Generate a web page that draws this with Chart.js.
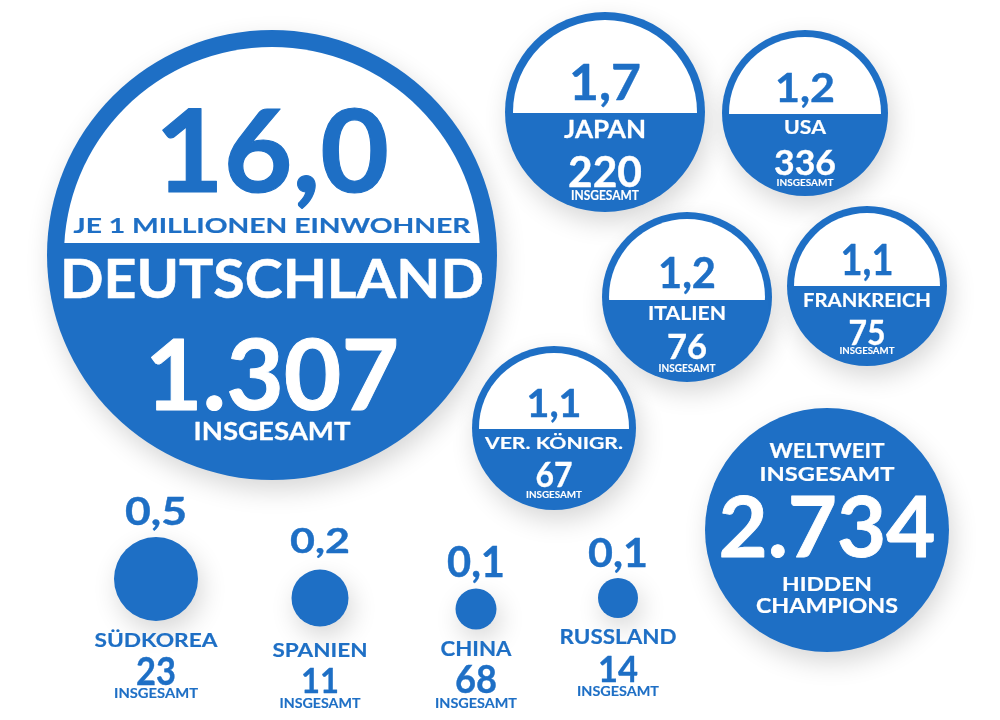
<!DOCTYPE html>
<html>
<head>
<meta charset="utf-8">
<script src="https://cdn.jsdelivr.net/npm/chart.js@4.4.1/dist/chart.umd.min.js"></script>
<style>
  html, body { margin: 0; padding: 0; background: #fff; }
  #wrap { width: 1000px; height: 720px; }
</style>
</head>
<body>
<div id="wrap"><canvas id="hcChart" width="1000" height="720"></canvas></div>
<script>
// Hidden Champions je 1 Mio. Einwohner / insgesamt
const countries = ['DEUTSCHLAND', 'JAPAN', 'USA', 'ITALIEN', 'FRANKREICH', 'VER. KÖNIGR.', 'SÜDKOREA', 'SPANIEN', 'CHINA', 'RUSSLAND'];
const perMillion = [16.0, 1.7, 1.2, 1.2, 1.1, 1.1, 0.5, 0.2, 0.1, 0.1];
const totals = [1307, 220, 336, 76, 75, 67, 23, 11, 68, 14];
const worldTotal = 2734;
const worldLabel = ['WELTWEIT', 'INSGESAMT', 'HIDDEN', 'CHAMPIONS'];
const noteLabel = 'JE 1 MILLIONEN EINWOHNER';
const totalLabel = 'INSGESAMT';

const BLUE = '#1e6fc5';

// layout of the bubbles (page space 0..1000 x 0..720) + text lines [key, dy, capHeight, width]
const layout = [
  { x: 272, y: 255, r: 225, kind: 'cap', ring: 17, cap: -12, lines: [['value', -63, 82, 234], ['note', -22, 15, 397], ['name', 43, 38, 424], ['total', 155, 70, 254], ['insg', 185, 18, 157]] },
  { x: 605, y: 112, r: 100, kind: 'cap', ring: 8, cap: 1, lines: [['value', -12, 35, 72], ['name', 26, 18, 82], ['total', 75, 30, 74], ['insg', 88, 9, 68]] },
  { x: 805, y: 113, r: 83, kind: 'cap', ring: 7, cap: 1, lines: [['value', -11, 29, 60], ['name', 21, 14, 42], ['total', 62, 25, 62], ['insg', 73, 7, 57]] },
  { x: 687, y: 297, r: 85, kind: 'cap', ring: 7, cap: 3, lines: [['value', -9, 30, 58], ['name', 23, 14, 78], ['total', 62, 24, 40], ['insg', 75, 8, 57]] },
  { x: 867, y: 286, r: 80, kind: 'cap', ring: 7, cap: 0, lines: [['value', -11, 30, 53], ['name', 21, 13, 128], ['total', 59, 25, 37], ['insg', 68, 7, 55]] },
  { x: 554, y: 428, r: 82, kind: 'cap', ring: 7, cap: 1, lines: [['value', -11, 27, 55], ['name', 21, 12, 138], ['total', 59, 24, 37], ['insg', 70, 7, 56]] },
  { x: 156, y: 579, r: 42, kind: 'dot', lines: [['value', -54, 28, 62], ['name', 68, 14, 123], ['total', 106, 27, 40], ['insg', 119, 9, 84]] },
  { x: 320, y: 598, r: 28.5, kind: 'dot', lines: [['value', -45, 24, 60], ['name', 59, 14, 95], ['total', 95, 24, 38], ['insg', 110, 9, 81]] },
  { x: 476, y: 609, r: 20.5, kind: 'dot', lines: [['value', -32, 30, 58], ['name', 47, 15, 71], ['total', 84, 27, 42], ['insg', 99, 9, 82]] },
  { x: 618, y: 598, r: 20, kind: 'dot', lines: [['value', -31, 29, 60], ['name', 46, 15, 117], ['total', 84, 26, 40], ['insg', 98, 9, 82]] }
];
const worldLayout = { x: 827, y: 530, r: 122, lines: [[0, -72, 15, 115], [1, -49, 14, 135], ['total', 27, 60, 217], [2, 61, 14, 90], [3, 83, 15, 142]] };

const fmt1 = v => v.toLocaleString('de-DE', { minimumFractionDigits: 1, maximumFractionDigits: 1 });
const fmt0 = v => v.toLocaleString('de-DE');

function lineText(key, i) {
  if (key === 'value') return fmt1(perMillion[i]);
  if (key === 'note') return noteLabel;
  if (key === 'name') return countries[i];
  if (key === 'total') return fmt0(totals[i]);
  return totalLabel;
}

// draw text with its cap height, stretched to the measured width
function fitText(ctx, text, cx, by, capH, w, color) {
  const size = capH / 0.7165;
  ctx.save();
  ctx.font = `bold ${size}px Lato`;
  const m = ctx.measureText(text).width;
  ctx.translate(cx, by);
  ctx.scale(w / m, 1);
  ctx.fillStyle = color;
  ctx.strokeStyle = color;
  ctx.lineJoin = 'round';
  ctx.lineWidth = size * 0.01;
  ctx.textAlign = 'center';
  ctx.textBaseline = 'alphabetic';
  ctx.fillText(text, 0, 0);
  ctx.strokeText(text, 0, 0);
  ctx.restore();
}

const infoPlugin = {
  id: 'info',
  beforeDatasetDraw(chart) {
    const ctx = chart.ctx;
    ctx.save();
    ctx.shadowColor = 'rgba(0,0,0,0.16)';
    ctx.shadowBlur = 26;
    ctx.shadowOffsetX = 4;
    ctx.shadowOffsetY = 10;
  },
  afterDatasetDraw(chart) {
    chart.ctx.restore();
  },
  afterDatasetsDraw(chart) {
    const ctx = chart.ctx;
    const pts = chart.getDatasetMeta(0).data;
    layout.forEach((l, i) => {
      const p = pts[i];
      if (l.kind === 'cap') {
        ctx.save();
        ctx.beginPath();
        ctx.arc(p.x, p.y, l.r - l.ring, 0, Math.PI * 2);
        ctx.clip();
        ctx.fillStyle = '#fff';
        ctx.fillRect(p.x - l.r, p.y - l.r, l.r * 2, l.r + l.cap);
        ctx.restore();
      }
      l.lines.forEach(([key, dy, capH, w]) => {
        let color = BLUE;
        if (l.kind === 'cap' && dy > l.cap) color = '#fff';
        fitText(ctx, lineText(key, i), p.x, p.y + dy, capH, w, color);
      });
    });
    const wp = chart.getDatasetMeta(1).data[0];
    worldLayout.lines.forEach(([key, dy, capH, w]) => {
      const text = key === 'total' ? fmt0(worldTotal) : worldLabel[key];
      fitText(ctx, text, wp.x, wp.y + dy, capH, w, '#fff');
    });
  }
};

new Chart(document.getElementById('hcChart'), {
  type: 'bubble',
  data: {
    datasets: [
      {
        label: 'Hidden Champions',
        data: layout.map((l, i) => ({ x: l.x, y: l.y, r: l.r, v: perMillion[i] })),
        backgroundColor: BLUE,
        borderWidth: 0,
        hoverRadius: 0,
        clip: false
      },
      {
        label: 'Weltweit',
        data: [{ x: worldLayout.x, y: worldLayout.y, r: worldLayout.r, v: worldTotal }],
        backgroundColor: BLUE,
        borderWidth: 0,
        hoverRadius: 0,
        clip: false
      }
    ]
  },
  options: {
    responsive: false,
    animation: false,
    events: [],
    layout: { padding: 0, autoPadding: false },
    plugins: { legend: { display: false }, tooltip: { enabled: false } },
    scales: {
      x: { type: 'linear', min: 0, max: 1000, display: false },
      y: { type: 'linear', min: 0, max: 720, reverse: true, display: false }
    }
  },
  plugins: [infoPlugin]
});
</script>
</body>
</html>
